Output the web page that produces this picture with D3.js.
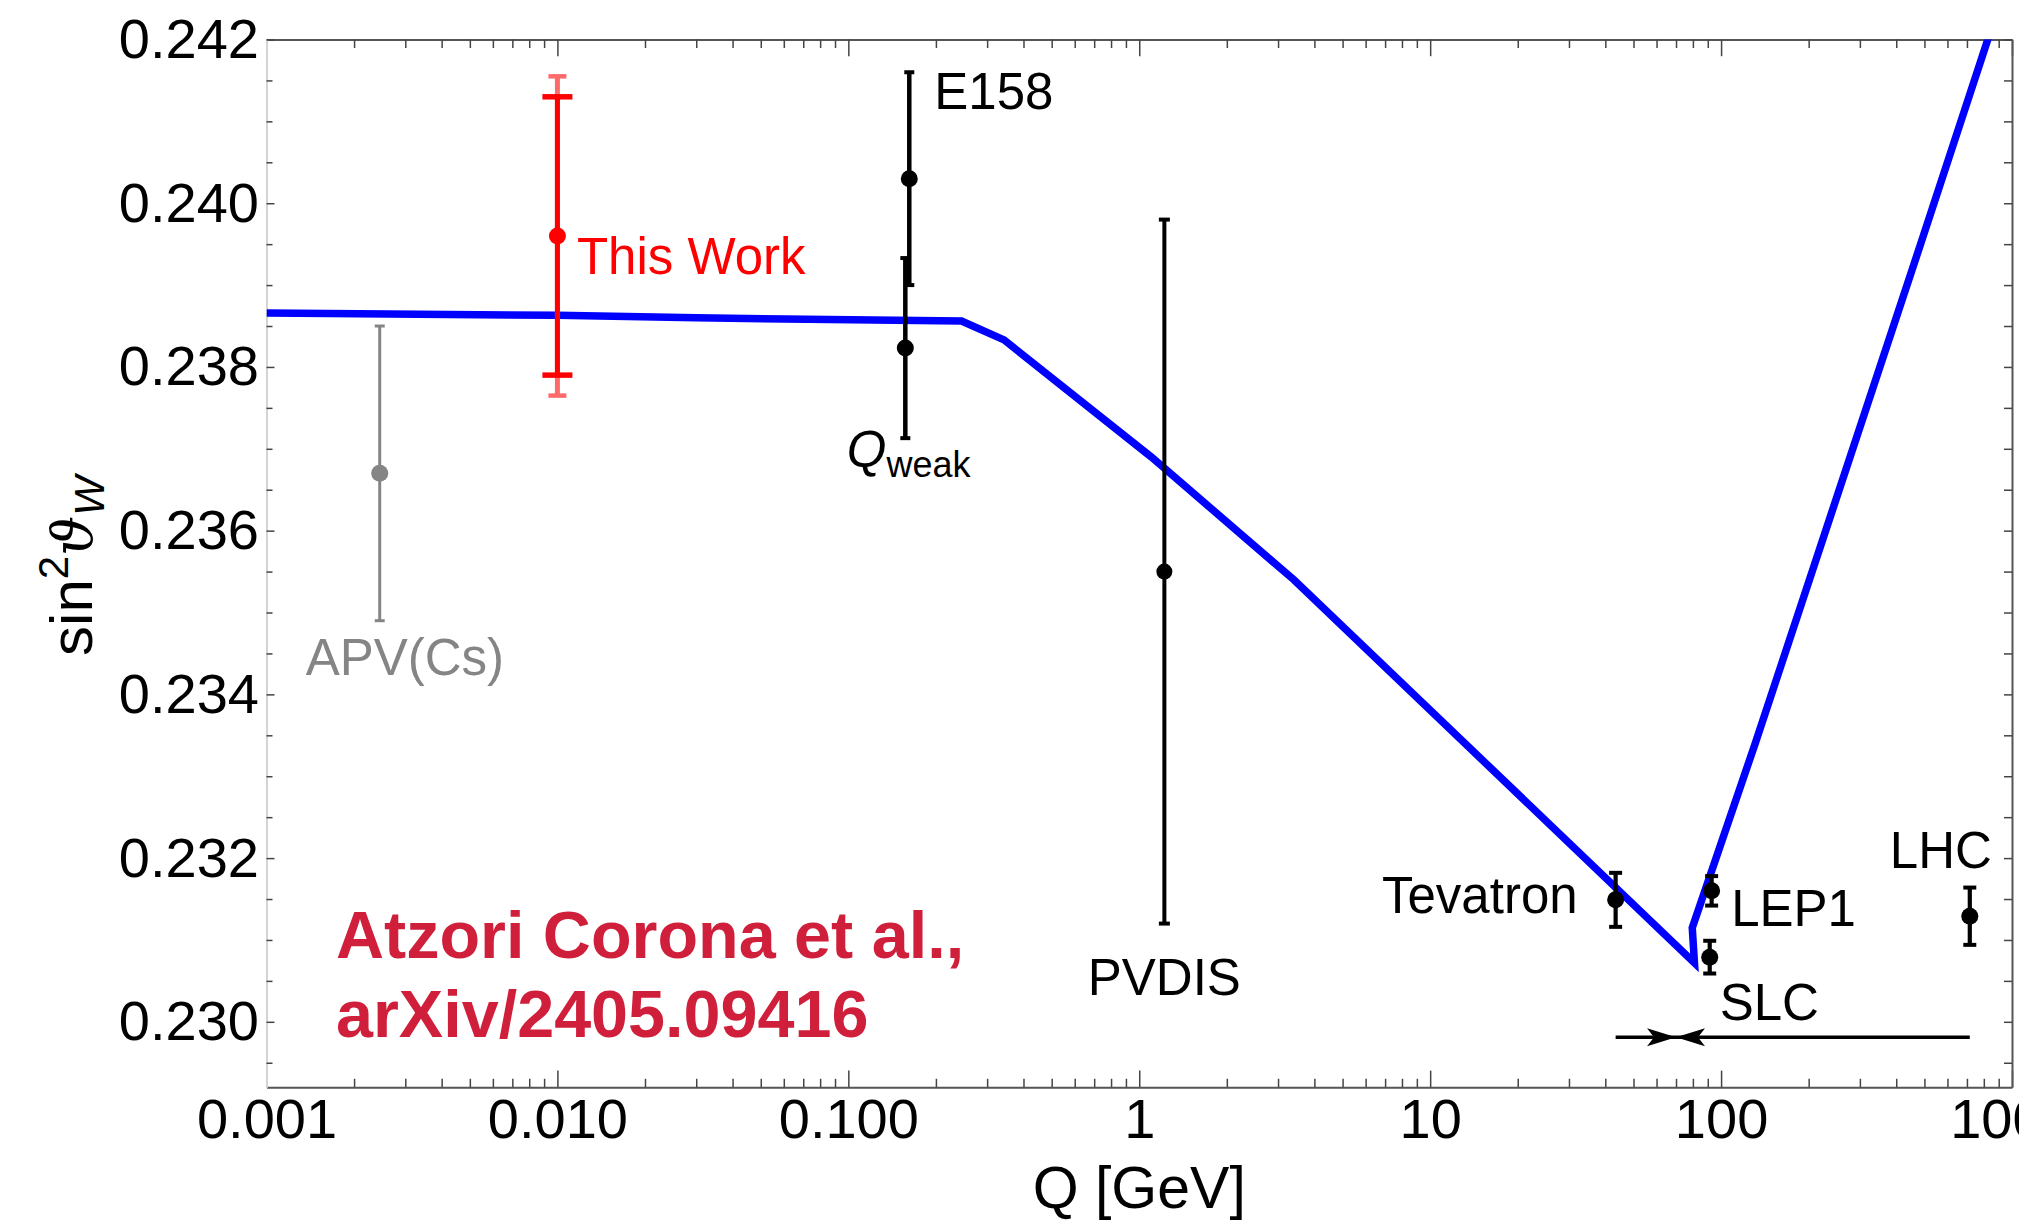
<!DOCTYPE html>
<html>
<head>
<meta charset="utf-8">
<script src="https://cdn.jsdelivr.net/npm/d3@7"></script>
<style>
  html, body { margin: 0; padding: 0; background: #ffffff; }
  svg { display: block; font-family: "Liberation Sans", Arial, Helvetica, sans-serif; }
</style>
</head>
<body>
<svg id="chart" width="2019" height="1228"></svg>
<script>
// Running of the weak mixing angle sin^2(theta_W) versus momentum transfer Q.

// Standard Model running (MS-bar), sampled along the curve
const curveQ = [0.001, 0.01, 0.03, 0.245, 0.343, 1.1, 3.4, 81.0, 79.6, 131, 485, 1000];
const curveS = [0.23866, 0.23863, 0.23860, 0.23856, 0.23833, 0.23690, 0.23540, 0.23072, 0.23115, 0.23340, 0.23950, 0.24290];

// Measurements
const expNames = ["APV(Cs)", "This Work", "E158", "Qweak", "PVDIS", "Tevatron", "LEP1", "SLC", "LHC"];
const expQ     = [0.00245, 0.0100, 0.162, 0.157, 1.22, 43.4, 92.8, 91.4, 716];
const expS     = [0.2367, 0.2396, 0.2403, 0.23823, 0.2355, 0.23149, 0.23160, 0.23079, 0.23129];
const expErr   = [0.0018, 0.0017, 0.0013, 0.0011, 0.0043, 0.00033, 0.00018, 0.00020, 0.00035];
// total uncertainty band of the new determination
const thisWorkErrTotal = 0.00195;

// Scale range indicator below the collider points
const arrowFromQ = [43.4, 716];
const arrowTipQ = 70;
const arrowS = 0.22981;

// Axis ticks
const xTickValues = [0.001, 0.01, 0.1, 1, 10, 100, 1000];
const xTickLabels = ["0.001", "0.010", "0.100", "1", "10", "100", "1000"];
const yTickValues = [0.230, 0.232, 0.234, 0.236, 0.238, 0.240, 0.242];
const yTickLabels = ["0.230", "0.232", "0.234", "0.236", "0.238", "0.240", "0.242"];

// ---------------------------------------------------------------------------
const svg = d3.select("#chart");
const plot = { left: 266.5, right: 2012, top: 39.5, bottom: 1087.3 };

const x = d3.scaleLog().domain([0.001, 1000]).range([plot.left, plot.right]);
const y = d3.scaleLinear().domain([0.2292, 0.242]).range([plot.bottom, plot.top]);

const tickColor = "#444";
const frameColor = "#555";
const tickFont = 56;

// minor tick positions
const xMinor = [];
for (let k = -3; k < 3; k++) for (let j = 2; j <= 9; j++) xMinor.push(j * Math.pow(10, k));
const yMinor = d3.range(0.2295, 0.2420, 0.0005).filter(v => Math.round(v * 1e4) % 20 !== 0);

function styleAxis(g, domainColor) {
  g.selectAll(".tick line").attr("stroke", tickColor).attr("stroke-width", 1.5);
  g.select(".domain").attr("stroke", domainColor).attr("stroke-width", 2);
  g.attr("font-family", null).attr("font-size", null);
  g.selectAll(".tick text").attr("fill", "#000").attr("font-size", tickFont);
}

// bottom
const gBottom = svg.append("g").attr("transform", `translate(0,${plot.bottom})`)
  .call(d3.axisBottom(x).tickValues(xTickValues)
    .tickFormat(d => xTickLabels[xTickValues.indexOf(d)])
    .tickSizeInner(-16.7).tickSizeOuter(0).tickPadding(10.5));
styleAxis(gBottom, frameColor);
const gBottomMinor = svg.append("g").attr("transform", `translate(0,${plot.bottom})`)
  .call(d3.axisBottom(x).tickValues(xMinor).tickFormat("").tickSizeInner(-8.5).tickSizeOuter(0));
styleAxis(gBottomMinor, frameColor);
gBottomMinor.select(".domain").remove();

// top
const gTop = svg.append("g").attr("transform", `translate(0,${plot.top})`)
  .call(d3.axisTop(x).tickValues(xTickValues).tickFormat("").tickSizeInner(-16.7).tickSizeOuter(0));
styleAxis(gTop, frameColor);
const gTopMinor = svg.append("g").attr("transform", `translate(0,${plot.top})`)
  .call(d3.axisTop(x).tickValues(xMinor).tickFormat("").tickSizeInner(-8.5).tickSizeOuter(0));
styleAxis(gTopMinor, frameColor);
gTopMinor.select(".domain").remove();

// left
const gLeft = svg.append("g").attr("transform", `translate(${plot.left},0)`)
  .call(d3.axisLeft(y).tickValues(yTickValues)
    .tickFormat(d => yTickLabels[yTickValues.findIndex(v => Math.abs(v - d) < 1e-9)])
    .tickSizeInner(-8).tickSizeOuter(0).tickPadding(7.5));
styleAxis(gLeft, "#d4d4d4");
const gLeftMinor = svg.append("g").attr("transform", `translate(${plot.left},0)`)
  .call(d3.axisLeft(y).tickValues(yMinor).tickFormat("").tickSizeInner(-6).tickSizeOuter(0));
styleAxis(gLeftMinor, "#d4d4d4");
gLeftMinor.select(".domain").remove();

// right
const gRight = svg.append("g").attr("transform", `translate(${plot.right},0)`)
  .call(d3.axisRight(y).tickValues(yTickValues.concat(yMinor)).tickFormat("").tickSizeInner(-8).tickSizeOuter(0));
styleAxis(gRight, frameColor);

// axis titles
svg.append("text")
  .attr("x", (plot.left + plot.right) / 2).attr("y", 1208)
  .attr("text-anchor", "middle").attr("font-size", 59).attr("fill", "#000")
  .text("Q [GeV]");

const yTitle = svg.append("text")
  .attr("transform", "translate(91.5,566) rotate(-90)")
  .attr("text-anchor", "middle").attr("font-size", 60).attr("fill", "#000");
yTitle.append("tspan").text("sin");
yTitle.append("tspan").attr("font-size", 42).attr("dy", -24).text("2");
yTitle.append("tspan").attr("dy", 24).attr("font-style", "italic")
  .attr("font-family", "'DejaVu Serif', 'Liberation Serif', serif").attr("font-size", 56).text("\u03D1");
yTitle.append("tspan").attr("font-size", 42).attr("dy", 12).attr("font-style", "italic").text("W");

// clip for the curve
svg.append("clipPath").attr("id", "plotClip").append("rect")
  .attr("x", plot.left).attr("y", plot.top)
  .attr("width", plot.right - plot.left).attr("height", plot.bottom - plot.top);

// SM curve
const curve = curveQ.map((q, i) => [q, curveS[i]]);
svg.append("path")
  .attr("clip-path", "url(#plotClip)")
  .attr("d", d3.line().x(d => x(d[0])).y(d => y(d[1]))(curve))
  .attr("fill", "none").attr("stroke", "#0000ff").attr("stroke-width", 7.5)
  .attr("stroke-linejoin", "miter").attr("stroke-miterlimit", 10);

// scale range indicator with arrowheads
const gArrow = svg.append("g");
arrowFromQ.forEach(q => {
  gArrow.append("line")
    .attr("x1", x(q)).attr("x2", x(arrowTipQ))
    .attr("y1", y(arrowS)).attr("y2", y(arrowS))
    .attr("stroke", "#000").attr("stroke-width", 3.5);
  const dir = q < arrowTipQ ? 1 : -1;
  gArrow.append("path")
    .attr("transform", `translate(${x(arrowTipQ)},${y(arrowS)}) scale(${dir},1)`)
    .attr("d", "M0,0 L-29,-9 L-22,0 L-29,9 Z")
    .attr("fill", "#000");
});

// error bars and points
const styleOf = {
  "APV(Cs)":  { color: "#858585", bar: 3, cap: 10, capW: 3, r: 8.5 },
  "This Work":{ color: "#ff0000", bar: 5, cap: 30, capW: 5.5, r: 8.5 },
  "E158":     { color: "#000", bar: 4.5, cap: 10, capW: 4, r: 8.5 },
  "Qweak":    { color: "#000", bar: 4.5, cap: 10, capW: 4, r: 8.5 },
  "PVDIS":    { color: "#000", bar: 4, cap: 11, capW: 4, r: 8 },
  "Tevatron": { color: "#000", bar: 4.2, cap: 13, capW: 4, r: 8.5 },
  "LEP1":     { color: "#000", bar: 4.2, cap: 13, capW: 4, r: 8.5 },
  "SLC":      { color: "#000", bar: 4.2, cap: 13, capW: 4, r: 8.5 },
  "LHC":      { color: "#000", bar: 4.2, cap: 13, capW: 4, r: 8.5 }
};

const gData = svg.append("g");

// total uncertainty of this work (lighter, behind)
{
  const i = expNames.indexOf("This Work");
  const cx = x(expQ[i]);
  const yt = y(expS[i] + thisWorkErrTotal), yb = y(expS[i] - thisWorkErrTotal);
  gData.append("line").attr("x1", cx).attr("x2", cx).attr("y1", yt).attr("y2", yb)
    .attr("stroke", "#ff6a6a").attr("stroke-width", 5);
  [yt, yb].forEach(yy => gData.append("line")
    .attr("x1", cx - 9).attr("x2", cx + 9).attr("y1", yy).attr("y2", yy)
    .attr("stroke", "#ff6a6a").attr("stroke-width", 4.5));
}

expNames.forEach((name, i) => {
  const s = styleOf[name];
  const cx = x(expQ[i]);
  const yt = y(expS[i] + expErr[i]), yb = y(expS[i] - expErr[i]);
  const g = gData.append("g");
  g.append("line").attr("x1", cx).attr("x2", cx).attr("y1", yt).attr("y2", yb)
    .attr("stroke", s.color).attr("stroke-width", s.bar);
  [yt, yb].forEach(yy => g.append("line")
    .attr("x1", cx - s.cap / 2).attr("x2", cx + s.cap / 2).attr("y1", yy).attr("y2", yy)
    .attr("stroke", s.color).attr("stroke-width", s.capW));
  g.append("circle").attr("cx", cx).attr("cy", y(expS[i])).attr("r", s.r).attr("fill", s.color);
});

// experiment labels, placed relative to each measurement
const labelPlace = {
  "APV(Cs)":  { dx: -74,   ref: "low",  dy: 54,  anchor: "start" },
  "This Work":{ dx: 19.5,  ref: "mid",  dy: 38,  anchor: "start" },
  "E158":     { dx: 25,    ref: "high", dy: 37,  anchor: "start" },
  "PVDIS":    { dx: 0,     ref: "low",  dy: 71,  anchor: "middle" },
  "Tevatron": { dx: -38,   ref: "mid",  dy: 13.5,anchor: "end" },
  "LEP1":     { dx: 19.5,  ref: "mid",  dy: 35,  anchor: "start" },
  "SLC":      { dx: 10,    ref: "low",  dy: 46,  anchor: "start" },
  "LHC":      { dx: -80,   ref: "high", dy: -20, anchor: "start" }
};
const labelColor = { "APV(Cs)": "#858585", "This Work": "#ff0000" };

expNames.forEach((name, i) => {
  const p = labelPlace[name];
  if (!p) return;
  const v = p.ref === "high" ? expS[i] + expErr[i] : p.ref === "low" ? expS[i] - expErr[i] : expS[i];
  svg.append("text")
    .attr("x", x(expQ[i]) + p.dx).attr("y", y(v) + p.dy)
    .attr("text-anchor", p.anchor).attr("font-size", 51)
    .attr("fill", labelColor[name] || "#000")
    .text(name);
});

// Q_weak label with subscript
{
  const i = expNames.indexOf("Qweak");
  const t = svg.append("text")
    .attr("x", x(expQ[i]) - 58.5).attr("y", y(expS[i] - expErr[i]) + 28.5)
    .attr("font-size", 51).attr("fill", "#000");
  t.append("tspan").attr("font-style", "italic").text("Q");
  t.append("tspan").attr("font-size", 36).attr("dy", 10).text("weak");
}

// reference note
const note = svg.append("text").attr("font-size", 66.5).attr("font-weight", "bold").attr("fill", "#d01f3b");
note.append("tspan").attr("x", 336).attr("y", 958.3).text("Atzori Corona et al.,");
note.append("tspan").attr("x", 336).attr("y", 1037.3).text("arXiv/2405.09416");
</script>
</body>
</html>
